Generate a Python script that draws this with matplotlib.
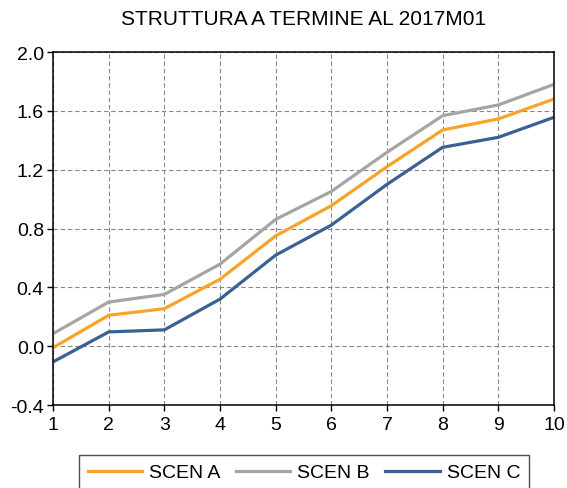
import numpy as np
import matplotlib
matplotlib.use('Agg')
import matplotlib.pyplot as plt

plt.rcParams['font.family'] = ['Liberation Sans', 'DejaVu Sans']

# maturities (years)
maturities = [1, 2, 3, 4, 5, 6, 7, 8, 9, 10]

# term structure per scenario
scen_a = [-0.01, 0.21, 0.255, 0.455, 0.75, 0.955, 1.22, 1.47, 1.545, 1.68]
scen_b = [0.085, 0.30, 0.352, 0.558, 0.862, 1.052, 1.318, 1.567, 1.64, 1.78]
scen_c = [-0.107, 0.097, 0.111, 0.32, 0.619, 0.823, 1.10, 1.352, 1.42, 1.556]

labels = ['SCEN A', 'SCEN B', 'SCEN C']
colors = ['#F9A32A', '#A5A5A5', '#3A6194']

y_ticks = [-0.4, 0.0, 0.4, 0.8, 1.2, 1.6, 2.0]

fig = plt.figure(figsize=(5.67, 4.89), dpi=100)
ax = fig.add_axes([0.0935, 0.1697, 0.8835, 0.7219])

for series, lab, col in zip([scen_a, scen_b, scen_c], labels, colors):
    ax.plot(maturities, series, color=col, linewidth=2.3, label=lab,
            solid_joinstyle='miter')

ax.set_xlim(1, 10)
ax.set_ylim(-0.4, 2.0)
ax.set_xticks(maturities)
ax.set_yticks(y_ticks)
ax.set_yticklabels([f'{v:.1f}' for v in y_ticks])
ax.grid(True, color='#888888', linestyle=(0, (4, 2.5)), linewidth=0.8)
ax.tick_params(axis='both', direction='out', length=4.5, width=1,
               labelsize=14, pad=2)
ax.tick_params(axis='x', pad=3.5)
for s in ax.spines.values():
    s.set_linewidth(1.1)

fig.text(0.536, 0.961, 'STRUTTURA A TERMINE AL 2017M01', ha='center',
         va='center', fontsize=15)

leg = fig.legend(loc='upper center', bbox_to_anchor=(0.536, 0.0675), ncol=3,
                 fontsize=14, frameon=True, fancybox=False,
                 handlelength=2.8, handletextpad=0.35, columnspacing=0.8,
                 borderpad=0.45, borderaxespad=0)
leg.get_frame().set_edgecolor('#222222')
leg.get_frame().set_linewidth(1.0)

plt.savefig('out.png', dpi=100)
plt.close()
